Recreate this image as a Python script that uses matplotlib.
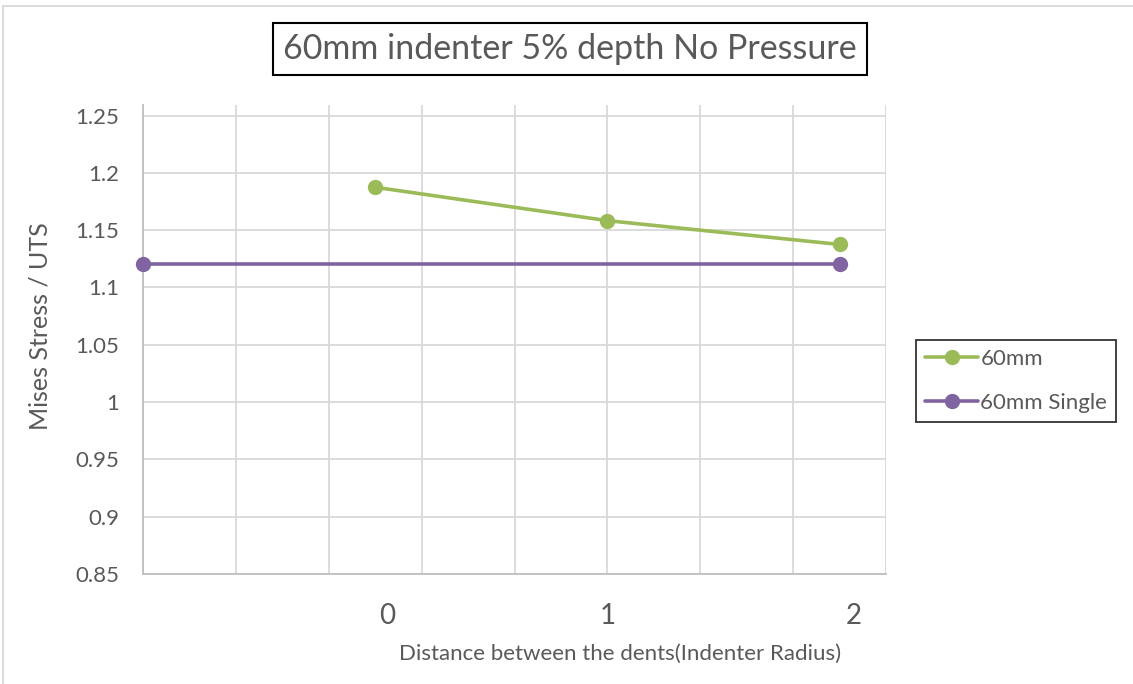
import numpy as np
import matplotlib
matplotlib.use("Agg")
import matplotlib.pyplot as plt
from matplotlib.lines import Line2D

plt.rcParams['font.family'] = ['Lato', 'DejaVu Sans']

# data
x_60mm = [0, 1, 2]
y_60mm = [1.1874, 1.1583, 1.1375]
x_single = [-1, 2]
y_single = [1.1203, 1.1203]

xtick_pos = [0.05, 1.0, 2.06]
xtick_txt = ['0', '1', '2']

green = '#9BBB59'
purple = '#8064A2'
txt = '#595959'
grid = '#D9D9D9'

fig = plt.figure(figsize=(11.33, 6.84), dpi=100)
ax = fig.add_axes([143/1133, 1-574/684, (886-143)/1133, (574-105)/684])

ax.plot(x_60mm, y_60mm, color=green, lw=2.6, marker='o', ms=10, label='60mm',
        solid_capstyle='round', clip_on=False, zorder=3)
ax.plot(x_single, y_single, color=purple, lw=2.6, marker='o', ms=10, label='60mm Single',
        solid_capstyle='round', clip_on=False, zorder=3)

ax.set_xlim(-1, 2.2)
ax.set_ylim(0.85, 1.25 + 10.5/1144)
ax.set_xticks(np.arange(-1, 2.21, 0.4))
ax.set_yticks(np.arange(0.85, 1.2501, 0.05))
ax.set_yticklabels(['0.85', '0.9', '0.95', '1', '1.05', '1.1', '1.15', '1.2', '1.25'])
ax.set_xticklabels([])
ax.grid(True, color=grid, lw=1.3)
ax.set_axisbelow(True)
ax.tick_params(axis='both', length=0, colors=txt, labelsize=16)
ax.tick_params(axis='y', pad=17)
for s in ['top', 'right']:
    ax.spines[s].set_visible(False)
for s in ['left', 'bottom']:
    ax.spines[s].set_color('#BFBFBF')
    ax.spines[s].set_linewidth(1.3)

# x tick labels sit off the grid in the original
tr = ax.get_xaxis_transform()
for p, t in zip(xtick_pos, xtick_txt):
    ax.text(p, -0.09, t, transform=tr, ha='center', va='center', fontsize=20, color=txt)

fig.text(620/1133, 1-654/684, 'Distance between the dents(Indenter Radius)',
         ha='center', va='center', fontsize=16, color=txt)
fig.text(40/1133, 1-326/684, 'Mises Stress / UTS', rotation=90,
         ha='center', va='center', fontsize=18, color=txt)

fig.text(570/1133, 1-49/684, '60mm indenter 5% depth No Pressure',
         ha='center', va='center', fontsize=24.5, color=txt,
         bbox=dict(boxstyle='square,pad=0.3', fc='white', ec='black', lw=1.5))

leg = fig.legend(loc='center left', bbox_to_anchor=(916/1133, 1-381/684), frameon=True,
                 fontsize=16, handlelength=2.4, handletextpad=0.1, labelspacing=1.08,
                 borderpad=0.4, borderaxespad=0, fancybox=False, labelcolor=txt)
leg.get_frame().set_edgecolor('black')
leg.get_frame().set_linewidth(1.3)

# outer chart-area edge (only top and left show in the original)
fig.add_artist(Line2D([3/1133, 1], [1-6/684, 1-6/684], transform=fig.transFigure,
                      color=grid, lw=1.3))
fig.add_artist(Line2D([3/1133, 3/1133], [0, 1-6/684], transform=fig.transFigure,
                      color=grid, lw=1.3))

fig.savefig('out.png', dpi=100)
